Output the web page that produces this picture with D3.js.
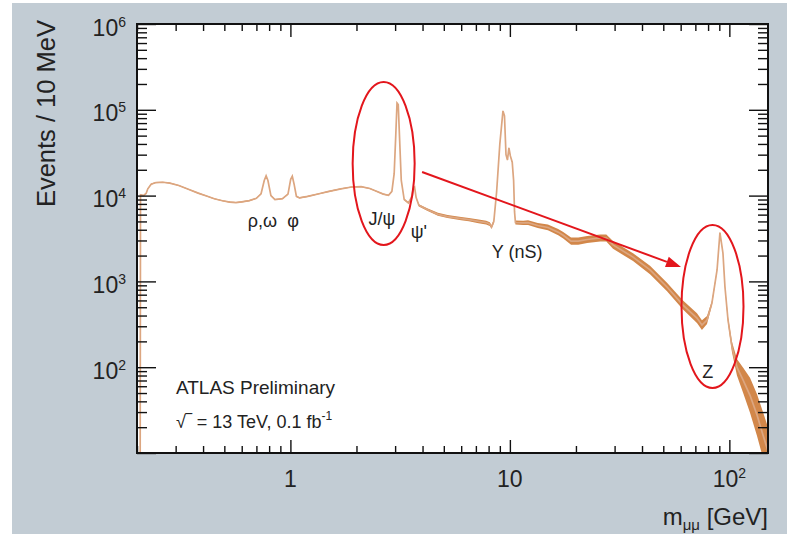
<!DOCTYPE html>
<html>
<head>
<meta charset="utf-8">
<script src="https://cdn.jsdelivr.net/npm/d3@7"></script>
<style>
  body { margin: 0; background: #fff; }
  text { font-family: "Liberation Sans", Arial, sans-serif; fill: #222; }
</style>
</head>
<body>
<div id="chart"></div>
<script>
// dimuon invariant mass spectrum
var massGeV = [0.2066, 0.2075, 0.214, 0.220, 0.224, 0.232, 0.244, 0.262, 0.282, 0.31,
  0.345, 0.38, 0.415, 0.45, 0.49, 0.53, 0.565, 0.60, 0.65, 0.70,
  0.735, 0.76, 0.775, 0.79, 0.815, 0.85, 0.92, 0.975, 1.003, 1.02,
  1.04, 1.065, 1.1, 1.2, 1.35, 1.5, 1.7, 1.9, 2.1, 2.3,
  2.45, 2.65, 2.8, 2.9, 2.97, 3.02, 3.06, 3.1, 3.14, 3.2,
  3.3, 3.45, 3.56, 3.63, 3.68, 3.74, 3.85, 4.2, 4.7, 5.2,
  6.0, 6.5, 7.2, 7.8, 8.1, 8.25, 8.45, 8.7, 9.0, 9.3,
  9.45, 9.6, 9.75, 9.9, 10.05, 10.25, 10.4, 10.5, 10.6, 11.5,
  12.1, 13.4, 14.9, 16.6, 17.5, 19, 20.5, 22.5, 25.8, 27.5,
  29.5, 36.4, 43.5, 52, 61.5, 71.2, 75, 79.1, 83.3, 87.9,
  90.6, 93.5, 95.5, 98.6, 102.8, 108.3, 115.4, 124.2, 133.7, 142.3, 150];
var events = [1, 10200, 10000, 10600, 12000, 13600, 14200, 14300, 14000, 13100,
  11800, 10700, 9900, 9200, 8700, 8400, 8300, 8450, 8750, 9300,
  10500, 15000, 17000, 15000, 10000, 9000, 9200, 10400, 15500, 16800,
  13500, 9800, 9400, 9800, 10500, 11200, 12000, 12600, 12700, 12100,
  11300, 10400, 10100, 11200, 18000, 50000, 120000, 115000, 50000, 15000,
  9000, 8200, 9500, 12000, 12500, 9500, 7700, 6900, 6050, 5700,
  5400, 5250, 5000, 4850, 4650, 4300, 5000, 11000, 40000, 97000,
  85000, 30000, 26000, 36000, 29000, 24500, 15000, 6500, 4850, 4800,
  4850, 4480, 4250, 3750, 3450, 2950, 2950, 3080, 3210, 3200,
  2660, 1920, 1360, 860, 530, 374, 310, 355, 560, 1360,
  3700, 2140, 860, 355, 172, 100, 71, 47, 27.7, 16.2, 10.5];
// relative statistical uncertainty (band half-width as a factor)
var relErr = [0, 0.015, 0.015, 0.015, 0.015, 0.015, 0.015, 0.015, 0.015, 0.015,
  0.015, 0.015, 0.015, 0.015, 0.015, 0.015, 0.015, 0.015, 0.015, 0.015,
  0.015, 0.015, 0.015, 0.015, 0.015, 0.015, 0.015, 0.015, 0.015, 0.015,
  0.015, 0.015, 0.015, 0.015, 0.015, 0.015, 0.015, 0.015, 0.015, 0.015,
  0.015, 0.015, 0.015, 0.015, 0.015, 0.015, 0.015, 0.015, 0.015, 0.015,
  0.02, 0.02, 0.02, 0.02, 0.02, 0.02, 0.03, 0.035, 0.04, 0.04,
  0.045, 0.045, 0.05, 0.05, 0.05, 0.05, 0.05, 0.03, 0.02, 0.015,
  0.015, 0.02, 0.02, 0.02, 0.02, 0.02, 0.02, 0.03, 0.055, 0.06,
  0.065, 0.07, 0.08, 0.085, 0.09, 0.1, 0.1, 0.1, 0.1, 0.1,
  0.11, 0.11, 0.12, 0.12, 0.13, 0.14, 0.14, 0.11, 0.06, 0.03,
  0.02, 0.03, 0.05, 0.09, 0.15, 0.25, 0.4, 0.6, 0.75, 0.85, 0.9];

var xDomain = [0.2, 150];
var yDomain = [10, 1e6];
var xTickLabels = [{v: 1, base: "1", sup: ""}, {v: 10, base: "10", sup: ""}, {v: 100, base: "10", sup: "2"}];
var yTickExponents = [2, 3, 4, 5, 6];

var peakLabels = [
  {text: "\u03c1,\u03c9", m: 0.746, ev: 4300},
  {text: "\u03c6", m: 1.028, ev: 4300},
  {text: "J/\u03c8", m: 2.61, ev: 4540},
  {text: "\u03c8'", m: 3.85, ev: 3210},
  {text: "\u03a5 (nS)", m: 10.8, ev: 1850},
  {text: "Z", m: 79.8, ev: 74.8}
];
// red highlight marks (centres in data coordinates)
var circled = [{m: 2.66, ev: 23650}, {m: 83.8, ev: 509}];
var arrowFrom = {m: 3.98, ev: 18840}, arrowTo = {m: 60.2, ev: 1472};

var margin = {top: 24, right: 19, bottom: 81, left: 137},
    width = 787 - margin.left - margin.right,
    height = 534 - margin.top - margin.bottom;

var root = d3.select("#chart").append("svg")
    .attr("width", 787)
    .attr("height", 534);

root.append("rect")
    .attr("x", 12).attr("y", 3)
    .attr("width", 775).attr("height", 531)
    .attr("fill", "#c2ccd4");

var svg = root.append("g")
    .attr("transform", "translate(" + margin.left + "," + margin.top + ")");

svg.append("rect")
    .attr("width", width).attr("height", height)
    .attr("fill", "#fff");

var x = d3.scaleLog().domain(xDomain).range([0, width]);
var y = d3.scaleLog().domain(yDomain).range([height, 0]);

var data = massGeV.map(function(m, i) { return {m: m, v: events[i], e: relErr[i]}; });

// clip the spectrum to the frame
svg.append("clipPath").attr("id", "clip")
  .append("rect").attr("width", width).attr("height", height);

var plot = svg.append("g").attr("clip-path", "url(#clip)");

plot.append("path")
    .datum(data)
    .attr("fill", "#d2874a")
    .attr("d", d3.area()
      .x(function(d) { return x(d.m); })
      .y0(function(d) { return y(d.v / (1 + d.e)); })
      .y1(function(d) { return y(d.v * (1 + d.e)); }));

plot.append("path")
    .datum(data)
    .attr("fill", "none")
    .attr("stroke", "#dca680")
    .attr("stroke-width", 1.7)
    .attr("d", d3.line()
      .x(function(d) { return x(d.m); })
      .y(function(d) { return y(d.v); }));

// ticks on all four sides, pointing inward
function isDecade(v) { var l = Math.log10(v); return Math.abs(l - Math.round(l)) < 1e-6; }
var xMajor = x.ticks().filter(isDecade),
    xMinor = x.ticks().filter(function(v) { return !isDecade(v); });
var yMajor = y.ticks().filter(isDecade),
    yMinor = y.ticks().filter(function(v) { return !isDecade(v); });

function tickGroup(axis, tr) {
  var g = svg.append("g").attr("transform", tr).attr("color", "#111")
      .call(axis.tickFormat("").tickSizeOuter(0));
  g.select(".domain").remove();
  g.selectAll("line").attr("stroke-width", 1.4);
}
tickGroup(d3.axisBottom(x).tickValues(xMajor).tickSizeInner(-13), "translate(0," + height + ")");
tickGroup(d3.axisBottom(x).tickValues(xMinor).tickSizeInner(-7), "translate(0," + height + ")");
tickGroup(d3.axisTop(x).tickValues(xMajor).tickSizeInner(-13), "translate(0,0)");
tickGroup(d3.axisTop(x).tickValues(xMinor).tickSizeInner(-7), "translate(0,0)");
tickGroup(d3.axisLeft(y).tickValues(yMajor).tickSizeInner(-19), "translate(0,0)");
tickGroup(d3.axisLeft(y).tickValues(yMinor).tickSizeInner(-10), "translate(0,0)");
tickGroup(d3.axisRight(y).tickValues(yMajor).tickSizeInner(-19), "translate(" + width + ",0)");
tickGroup(d3.axisRight(y).tickValues(yMinor).tickSizeInner(-10), "translate(" + width + ",0)");

svg.append("rect")
    .attr("width", width).attr("height", height)
    .attr("fill", "none")
    .attr("stroke", "#111")
    .attr("stroke-width", 2);

// tick labels
var yl = svg.selectAll(".ylab").data(yTickExponents).enter().append("text")
    .attr("x", -11)
    .attr("y", function(d) { return y(Math.pow(10, d)) + 11.5; })
    .attr("text-anchor", "end")
    .style("font-size", "23px");
yl.append("tspan").text("10");
yl.append("tspan").attr("dy", -9).style("font-size", "14px").text(function(d) { return d; });

var xl = svg.selectAll(".xlab").data(xTickLabels).enter().append("text")
    .attr("x", function(d) { return x(d.v); })
    .attr("y", height + 34)
    .attr("text-anchor", "middle")
    .style("font-size", "23px");
xl.append("tspan").text(function(d) { return d.base; });
xl.append("tspan").attr("dy", -9).style("font-size", "14px").text(function(d) { return d.sup; });

// axis titles
var xt = svg.append("text")
    .attr("x", width).attr("y", height + 72)
    .attr("text-anchor", "end")
    .style("font-size", "24px");
xt.append("tspan").text("m");
xt.append("tspan").attr("dy", 5).style("font-size", "15px").text("\u03bc\u03bc");
xt.append("tspan").attr("dy", -5).text(" [GeV]");

svg.append("text")
    .attr("transform", "rotate(-90)")
    .attr("x", 4).attr("y", -82)
    .attr("text-anchor", "end")
    .style("font-size", "25.5px")
    .text("Events / 10 MeV");

// peak names
svg.selectAll(".peak").data(peakLabels).enter().append("text")
    .attr("x", function(d) { return x(d.m); })
    .attr("y", function(d) { return y(d.ev); })
    .attr("text-anchor", "middle")
    .style("font-size", "18px")
    .text(function(d) { return d.text; });

// experiment label
svg.append("text")
    .attr("x", x(0.301)).attr("y", y(48.8))
    .style("font-size", "19px")
    .text("ATLAS Preliminary");
var lumi = svg.append("text")
    .attr("x", x(0.301)).attr("y", y(19.5))
    .style("font-size", "18px");
lumi.append("tspan").text("\u221a\u203e = 13 TeV, 0.1 fb");
lumi.append("tspan").attr("dy", -8).style("font-size", "12px").text("-1");

// red highlights
svg.selectAll(".ring").data(circled).enter().append("ellipse")
    .attr("cx", function(d) { return x(d.m); })
    .attr("cy", function(d) { return y(d.ev); })
    .attr("rx", 31).attr("ry", 81.5)
    .attr("fill", "none")
    .attr("stroke", "#e3161c")
    .attr("stroke-width", 2);

var ax0 = x(arrowFrom.m), ay0 = y(arrowFrom.ev), ax1 = x(arrowTo.m), ay1 = y(arrowTo.ev);
var ang = Math.atan2(ay1 - ay0, ax1 - ax0), headLen = 15, headW = 5.5;
var bx = ax1 - headLen * Math.cos(ang), by = ay1 - headLen * Math.sin(ang);
svg.append("line")
    .attr("x1", ax0).attr("y1", ay0).attr("x2", bx).attr("y2", by)
    .attr("stroke", "#e3161c").attr("stroke-width", 2);
svg.append("polygon")
    .attr("points", [[ax1, ay1],
      [bx + headW * Math.sin(ang), by - headW * Math.cos(ang)],
      [bx - headW * Math.sin(ang), by + headW * Math.cos(ang)]].join(" "))
    .attr("fill", "#e3161c");
</script>
</body>
</html>
